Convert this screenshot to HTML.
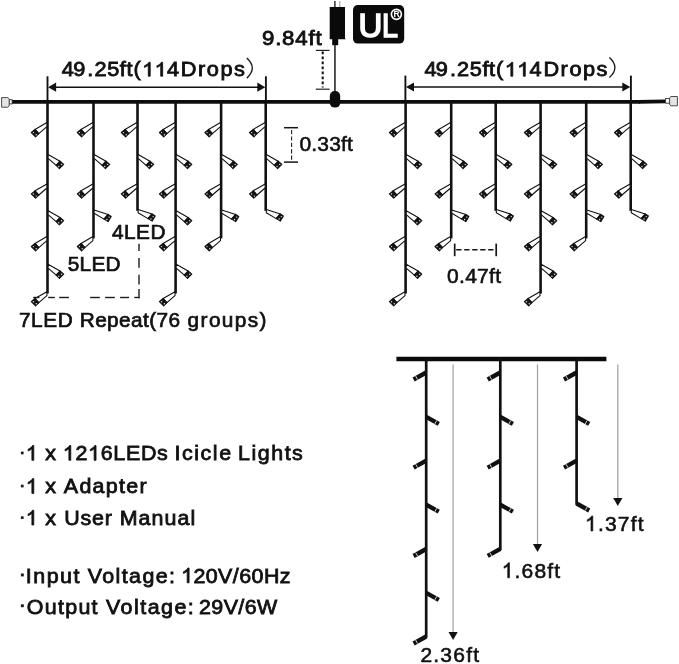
<!DOCTYPE html>
<html><head><meta charset="utf-8"><title>Icicle Lights</title>
<style>html,body{margin:0;padding:0;background:#fff;}svg{display:block;will-change:transform;}text{font-family:"Liberation Sans",sans-serif;}</style>
</head><body>
<svg width="679" height="664" viewBox="0 0 679 664">
<rect width="679" height="664" fill="#fff"/>
<line x1="11.9" y1="101.8" x2="640" y2="101.8" stroke="#0d0d0d" stroke-width="3.7"/>
<line x1="639" y1="101.8" x2="665.4" y2="101.35" stroke="#0d0d0d" stroke-width="3.7"/>
<rect x="9.3" y="99.7" width="2.8" height="4.2" fill="#fff" stroke="#333" stroke-width="0.9"/>
<rect x="665.6" y="98.6" width="3.8" height="4.6" fill="#fff" stroke="#333" stroke-width="0.9"/>
<path d="M1.6 97.6 H7.8 L9.2 98.9 V106 L7.8 107.2 H1.6 Z" fill="#e4e4e4" stroke="#4a4a4a" stroke-width="1"/>
<path d="M677.4 96.5 H671 L669.6 97.8 V104.6 L671 105.8 H677.4 Z" fill="#e4e4e4" stroke="#4a4a4a" stroke-width="1"/>
<rect x="329.8" y="91" width="10.4" height="16.6" rx="4.9" fill="#0d0d0d"/>
<line x1="334.95" y1="44" x2="334.95" y2="93" stroke="#111" stroke-width="1.45"/>
<path d="M329.7 7 H345 V38.5 L346.2 39.3 H329.7 Z" fill="#0a0a0a"/>
<rect x="332.2" y="39" width="6.0" height="6.2" fill="#0a0a0a"/>
<line x1="334.9" y1="1" x2="334.9" y2="7" stroke="#222" stroke-width="1.4"/>
<line x1="339.8" y1="1" x2="339.8" y2="7" stroke="#999" stroke-width="1"/>
<rect x="353" y="5.1" width="51.2" height="38.5" rx="4.8" fill="#0a0a0a"/>
<circle cx="396.4" cy="14.3" r="5.0" fill="none" stroke="#fff" stroke-width="1.7"/>
<text transform="translate(396.6,17.2) scale(1.0,1)" x="0" y="0" font-family="Liberation Sans, sans-serif" font-size="8.6" font-weight="bold" fill="#fff" text-anchor="middle">R</text>
<line x1="315.8" y1="50.4" x2="329.6" y2="50.4" stroke="#222" stroke-width="1.2"/>
<line x1="315.8" y1="89.2" x2="329.6" y2="89.2" stroke="#222" stroke-width="1.2"/>
<line x1="322.7" y1="51.4" x2="322.7" y2="87.4" stroke="#141414" stroke-width="2.1" stroke-dasharray="2.8 2.2"/>
<line x1="47.5" y1="101.8" x2="47.5" y2="293.5" stroke="#111" stroke-width="2.6"/>
<polygon points="46.90,122.60 35.00,129.40 38.80,133.60 46.90,126.60" fill="#fff" stroke="#111" stroke-width="1.1" stroke-linejoin="round"/>
<polygon points="35.00,129.40 31.30,132.50 35.60,136.80 38.80,133.60" fill="#161616" stroke="#111" stroke-width="1.1" stroke-linejoin="round"/>
<circle cx="33.40" cy="132.60" r="0.7" fill="#e6e6e6"/>
<circle cx="36.20" cy="134.70" r="0.7" fill="#e6e6e6"/>
<polygon points="48.10,154.40 60.00,161.20 56.20,165.40 48.10,158.40" fill="#fff" stroke="#111" stroke-width="1.1" stroke-linejoin="round"/>
<polygon points="60.00,161.20 63.70,164.30 59.40,168.60 56.20,165.40" fill="#161616" stroke="#111" stroke-width="1.1" stroke-linejoin="round"/>
<circle cx="61.60" cy="164.40" r="0.7" fill="#e6e6e6"/>
<circle cx="58.80" cy="166.50" r="0.7" fill="#e6e6e6"/>
<polygon points="46.90,184.00 35.00,190.80 38.80,195.00 46.90,188.00" fill="#fff" stroke="#111" stroke-width="1.1" stroke-linejoin="round"/>
<polygon points="35.00,190.80 31.30,193.90 35.60,198.20 38.80,195.00" fill="#161616" stroke="#111" stroke-width="1.1" stroke-linejoin="round"/>
<circle cx="33.40" cy="194.00" r="0.7" fill="#e6e6e6"/>
<circle cx="36.20" cy="196.10" r="0.7" fill="#e6e6e6"/>
<polygon points="48.10,210.70 60.00,217.50 56.20,221.70 48.10,214.70" fill="#fff" stroke="#111" stroke-width="1.1" stroke-linejoin="round"/>
<polygon points="60.00,217.50 63.70,220.60 59.40,224.90 56.20,221.70" fill="#161616" stroke="#111" stroke-width="1.1" stroke-linejoin="round"/>
<circle cx="61.60" cy="220.70" r="0.7" fill="#e6e6e6"/>
<circle cx="58.80" cy="222.80" r="0.7" fill="#e6e6e6"/>
<polygon points="46.90,236.60 35.00,243.40 38.80,247.60 46.90,240.60" fill="#fff" stroke="#111" stroke-width="1.1" stroke-linejoin="round"/>
<polygon points="35.00,243.40 31.30,246.50 35.60,250.80 38.80,247.60" fill="#161616" stroke="#111" stroke-width="1.1" stroke-linejoin="round"/>
<circle cx="33.40" cy="246.60" r="0.7" fill="#e6e6e6"/>
<circle cx="36.20" cy="248.70" r="0.7" fill="#e6e6e6"/>
<polygon points="48.10,264.20 60.00,271.00 56.20,275.20 48.10,268.20" fill="#fff" stroke="#111" stroke-width="1.1" stroke-linejoin="round"/>
<polygon points="60.00,271.00 63.70,274.10 59.40,278.40 56.20,275.20" fill="#161616" stroke="#111" stroke-width="1.1" stroke-linejoin="round"/>
<circle cx="61.60" cy="274.20" r="0.7" fill="#e6e6e6"/>
<circle cx="58.80" cy="276.30" r="0.7" fill="#e6e6e6"/>
<polygon points="46.90,291.70 35.00,298.50 38.80,302.70 46.90,295.70" fill="#fff" stroke="#111" stroke-width="1.1" stroke-linejoin="round"/>
<polygon points="35.00,298.50 31.30,301.60 35.60,305.90 38.80,302.70" fill="#161616" stroke="#111" stroke-width="1.1" stroke-linejoin="round"/>
<circle cx="33.40" cy="301.70" r="0.7" fill="#e6e6e6"/>
<circle cx="36.20" cy="303.80" r="0.7" fill="#e6e6e6"/>
<line x1="93.5" y1="101.8" x2="93.5" y2="238.4" stroke="#111" stroke-width="2.6"/>
<polygon points="92.90,122.60 81.00,129.40 84.80,133.60 92.90,126.60" fill="#fff" stroke="#111" stroke-width="1.1" stroke-linejoin="round"/>
<polygon points="81.00,129.40 77.30,132.50 81.60,136.80 84.80,133.60" fill="#161616" stroke="#111" stroke-width="1.1" stroke-linejoin="round"/>
<circle cx="79.40" cy="132.60" r="0.7" fill="#e6e6e6"/>
<circle cx="82.20" cy="134.70" r="0.7" fill="#e6e6e6"/>
<polygon points="94.10,154.40 106.00,161.20 102.20,165.40 94.10,158.40" fill="#fff" stroke="#111" stroke-width="1.1" stroke-linejoin="round"/>
<polygon points="106.00,161.20 109.70,164.30 105.40,168.60 102.20,165.40" fill="#161616" stroke="#111" stroke-width="1.1" stroke-linejoin="round"/>
<circle cx="107.60" cy="164.40" r="0.7" fill="#e6e6e6"/>
<circle cx="104.80" cy="166.50" r="0.7" fill="#e6e6e6"/>
<polygon points="92.90,184.00 81.00,190.80 84.80,195.00 92.90,188.00" fill="#fff" stroke="#111" stroke-width="1.1" stroke-linejoin="round"/>
<polygon points="81.00,190.80 77.30,193.90 81.60,198.20 84.80,195.00" fill="#161616" stroke="#111" stroke-width="1.1" stroke-linejoin="round"/>
<circle cx="79.40" cy="194.00" r="0.7" fill="#e6e6e6"/>
<circle cx="82.20" cy="196.10" r="0.7" fill="#e6e6e6"/>
<polygon points="94.10,209.90 108.10,214.40 104.00,219.10 94.10,213.20" fill="#fff" stroke="#111" stroke-width="1.1" stroke-linejoin="round"/>
<polygon points="108.10,214.40 111.20,216.50 108.10,221.60 104.00,219.10" fill="#161616" stroke="#111" stroke-width="1.1" stroke-linejoin="round"/>
<circle cx="109.10" cy="217.10" r="0.7" fill="#e6e6e6"/>
<circle cx="106.90" cy="219.50" r="0.7" fill="#e6e6e6"/>
<polygon points="92.90,236.60 81.00,243.40 84.80,247.60 92.90,240.60" fill="#fff" stroke="#111" stroke-width="1.1" stroke-linejoin="round"/>
<polygon points="81.00,243.40 77.30,246.50 81.60,250.80 84.80,247.60" fill="#161616" stroke="#111" stroke-width="1.1" stroke-linejoin="round"/>
<circle cx="79.40" cy="246.60" r="0.7" fill="#e6e6e6"/>
<circle cx="82.20" cy="248.70" r="0.7" fill="#e6e6e6"/>
<line x1="137.5" y1="101.8" x2="137.5" y2="210.8" stroke="#111" stroke-width="2.6"/>
<polygon points="136.90,122.60 125.00,129.40 128.80,133.60 136.90,126.60" fill="#fff" stroke="#111" stroke-width="1.1" stroke-linejoin="round"/>
<polygon points="125.00,129.40 121.30,132.50 125.60,136.80 128.80,133.60" fill="#161616" stroke="#111" stroke-width="1.1" stroke-linejoin="round"/>
<circle cx="123.40" cy="132.60" r="0.7" fill="#e6e6e6"/>
<circle cx="126.20" cy="134.70" r="0.7" fill="#e6e6e6"/>
<polygon points="138.10,154.40 150.00,161.20 146.20,165.40 138.10,158.40" fill="#fff" stroke="#111" stroke-width="1.1" stroke-linejoin="round"/>
<polygon points="150.00,161.20 153.70,164.30 149.40,168.60 146.20,165.40" fill="#161616" stroke="#111" stroke-width="1.1" stroke-linejoin="round"/>
<circle cx="151.60" cy="164.40" r="0.7" fill="#e6e6e6"/>
<circle cx="148.80" cy="166.50" r="0.7" fill="#e6e6e6"/>
<polygon points="136.90,184.00 125.00,190.80 128.80,195.00 136.90,188.00" fill="#fff" stroke="#111" stroke-width="1.1" stroke-linejoin="round"/>
<polygon points="125.00,190.80 121.30,193.90 125.60,198.20 128.80,195.00" fill="#161616" stroke="#111" stroke-width="1.1" stroke-linejoin="round"/>
<circle cx="123.40" cy="194.00" r="0.7" fill="#e6e6e6"/>
<circle cx="126.20" cy="196.10" r="0.7" fill="#e6e6e6"/>
<polygon points="138.10,209.40 152.10,213.90 148.00,218.60 138.10,212.70" fill="#fff" stroke="#111" stroke-width="1.1" stroke-linejoin="round"/>
<polygon points="152.10,213.90 155.20,216.00 152.10,221.10 148.00,218.60" fill="#161616" stroke="#111" stroke-width="1.1" stroke-linejoin="round"/>
<circle cx="153.10" cy="216.60" r="0.7" fill="#e6e6e6"/>
<circle cx="150.90" cy="219.00" r="0.7" fill="#e6e6e6"/>
<line x1="175.6" y1="101.8" x2="175.6" y2="293.5" stroke="#111" stroke-width="2.6"/>
<polygon points="175.00,122.60 163.10,129.40 166.90,133.60 175.00,126.60" fill="#fff" stroke="#111" stroke-width="1.1" stroke-linejoin="round"/>
<polygon points="163.10,129.40 159.40,132.50 163.70,136.80 166.90,133.60" fill="#161616" stroke="#111" stroke-width="1.1" stroke-linejoin="round"/>
<circle cx="161.50" cy="132.60" r="0.7" fill="#e6e6e6"/>
<circle cx="164.30" cy="134.70" r="0.7" fill="#e6e6e6"/>
<polygon points="176.20,154.40 188.10,161.20 184.30,165.40 176.20,158.40" fill="#fff" stroke="#111" stroke-width="1.1" stroke-linejoin="round"/>
<polygon points="188.10,161.20 191.80,164.30 187.50,168.60 184.30,165.40" fill="#161616" stroke="#111" stroke-width="1.1" stroke-linejoin="round"/>
<circle cx="189.70" cy="164.40" r="0.7" fill="#e6e6e6"/>
<circle cx="186.90" cy="166.50" r="0.7" fill="#e6e6e6"/>
<polygon points="175.00,184.00 163.10,190.80 166.90,195.00 175.00,188.00" fill="#fff" stroke="#111" stroke-width="1.1" stroke-linejoin="round"/>
<polygon points="163.10,190.80 159.40,193.90 163.70,198.20 166.90,195.00" fill="#161616" stroke="#111" stroke-width="1.1" stroke-linejoin="round"/>
<circle cx="161.50" cy="194.00" r="0.7" fill="#e6e6e6"/>
<circle cx="164.30" cy="196.10" r="0.7" fill="#e6e6e6"/>
<polygon points="176.20,210.70 188.10,217.50 184.30,221.70 176.20,214.70" fill="#fff" stroke="#111" stroke-width="1.1" stroke-linejoin="round"/>
<polygon points="188.10,217.50 191.80,220.60 187.50,224.90 184.30,221.70" fill="#161616" stroke="#111" stroke-width="1.1" stroke-linejoin="round"/>
<circle cx="189.70" cy="220.70" r="0.7" fill="#e6e6e6"/>
<circle cx="186.90" cy="222.80" r="0.7" fill="#e6e6e6"/>
<polygon points="175.00,236.60 163.10,243.40 166.90,247.60 175.00,240.60" fill="#fff" stroke="#111" stroke-width="1.1" stroke-linejoin="round"/>
<polygon points="163.10,243.40 159.40,246.50 163.70,250.80 166.90,247.60" fill="#161616" stroke="#111" stroke-width="1.1" stroke-linejoin="round"/>
<circle cx="161.50" cy="246.60" r="0.7" fill="#e6e6e6"/>
<circle cx="164.30" cy="248.70" r="0.7" fill="#e6e6e6"/>
<polygon points="176.20,264.20 188.10,271.00 184.30,275.20 176.20,268.20" fill="#fff" stroke="#111" stroke-width="1.1" stroke-linejoin="round"/>
<polygon points="188.10,271.00 191.80,274.10 187.50,278.40 184.30,275.20" fill="#161616" stroke="#111" stroke-width="1.1" stroke-linejoin="round"/>
<circle cx="189.70" cy="274.20" r="0.7" fill="#e6e6e6"/>
<circle cx="186.90" cy="276.30" r="0.7" fill="#e6e6e6"/>
<polygon points="175.00,291.70 163.10,298.50 166.90,302.70 175.00,295.70" fill="#fff" stroke="#111" stroke-width="1.1" stroke-linejoin="round"/>
<polygon points="163.10,298.50 159.40,301.60 163.70,305.90 166.90,302.70" fill="#161616" stroke="#111" stroke-width="1.1" stroke-linejoin="round"/>
<circle cx="161.50" cy="301.70" r="0.7" fill="#e6e6e6"/>
<circle cx="164.30" cy="303.80" r="0.7" fill="#e6e6e6"/>
<line x1="221.1" y1="101.8" x2="221.1" y2="238.4" stroke="#111" stroke-width="2.6"/>
<polygon points="220.50,122.60 208.60,129.40 212.40,133.60 220.50,126.60" fill="#fff" stroke="#111" stroke-width="1.1" stroke-linejoin="round"/>
<polygon points="208.60,129.40 204.90,132.50 209.20,136.80 212.40,133.60" fill="#161616" stroke="#111" stroke-width="1.1" stroke-linejoin="round"/>
<circle cx="207.00" cy="132.60" r="0.7" fill="#e6e6e6"/>
<circle cx="209.80" cy="134.70" r="0.7" fill="#e6e6e6"/>
<polygon points="221.70,154.40 233.60,161.20 229.80,165.40 221.70,158.40" fill="#fff" stroke="#111" stroke-width="1.1" stroke-linejoin="round"/>
<polygon points="233.60,161.20 237.30,164.30 233.00,168.60 229.80,165.40" fill="#161616" stroke="#111" stroke-width="1.1" stroke-linejoin="round"/>
<circle cx="235.20" cy="164.40" r="0.7" fill="#e6e6e6"/>
<circle cx="232.40" cy="166.50" r="0.7" fill="#e6e6e6"/>
<polygon points="220.50,184.00 208.60,190.80 212.40,195.00 220.50,188.00" fill="#fff" stroke="#111" stroke-width="1.1" stroke-linejoin="round"/>
<polygon points="208.60,190.80 204.90,193.90 209.20,198.20 212.40,195.00" fill="#161616" stroke="#111" stroke-width="1.1" stroke-linejoin="round"/>
<circle cx="207.00" cy="194.00" r="0.7" fill="#e6e6e6"/>
<circle cx="209.80" cy="196.10" r="0.7" fill="#e6e6e6"/>
<polygon points="221.70,209.90 235.70,214.40 231.60,219.10 221.70,213.20" fill="#fff" stroke="#111" stroke-width="1.1" stroke-linejoin="round"/>
<polygon points="235.70,214.40 238.80,216.50 235.70,221.60 231.60,219.10" fill="#161616" stroke="#111" stroke-width="1.1" stroke-linejoin="round"/>
<circle cx="236.70" cy="217.10" r="0.7" fill="#e6e6e6"/>
<circle cx="234.50" cy="219.50" r="0.7" fill="#e6e6e6"/>
<polygon points="220.50,236.60 208.60,243.40 212.40,247.60 220.50,240.60" fill="#fff" stroke="#111" stroke-width="1.1" stroke-linejoin="round"/>
<polygon points="208.60,243.40 204.90,246.50 209.20,250.80 212.40,247.60" fill="#161616" stroke="#111" stroke-width="1.1" stroke-linejoin="round"/>
<circle cx="207.00" cy="246.60" r="0.7" fill="#e6e6e6"/>
<circle cx="209.80" cy="248.70" r="0.7" fill="#e6e6e6"/>
<line x1="265.7" y1="101.8" x2="265.7" y2="210.8" stroke="#111" stroke-width="2.6"/>
<polygon points="265.10,122.60 253.20,129.40 257.00,133.60 265.10,126.60" fill="#fff" stroke="#111" stroke-width="1.1" stroke-linejoin="round"/>
<polygon points="253.20,129.40 249.50,132.50 253.80,136.80 257.00,133.60" fill="#161616" stroke="#111" stroke-width="1.1" stroke-linejoin="round"/>
<circle cx="251.60" cy="132.60" r="0.7" fill="#e6e6e6"/>
<circle cx="254.40" cy="134.70" r="0.7" fill="#e6e6e6"/>
<polygon points="266.30,154.40 278.20,161.20 274.40,165.40 266.30,158.40" fill="#fff" stroke="#111" stroke-width="1.1" stroke-linejoin="round"/>
<polygon points="278.20,161.20 281.90,164.30 277.60,168.60 274.40,165.40" fill="#161616" stroke="#111" stroke-width="1.1" stroke-linejoin="round"/>
<circle cx="279.80" cy="164.40" r="0.7" fill="#e6e6e6"/>
<circle cx="277.00" cy="166.50" r="0.7" fill="#e6e6e6"/>
<polygon points="265.10,184.00 253.20,190.80 257.00,195.00 265.10,188.00" fill="#fff" stroke="#111" stroke-width="1.1" stroke-linejoin="round"/>
<polygon points="253.20,190.80 249.50,193.90 253.80,198.20 257.00,195.00" fill="#161616" stroke="#111" stroke-width="1.1" stroke-linejoin="round"/>
<circle cx="251.60" cy="194.00" r="0.7" fill="#e6e6e6"/>
<circle cx="254.40" cy="196.10" r="0.7" fill="#e6e6e6"/>
<polygon points="266.30,209.40 280.30,213.90 276.20,218.60 266.30,212.70" fill="#fff" stroke="#111" stroke-width="1.1" stroke-linejoin="round"/>
<polygon points="280.30,213.90 283.40,216.00 280.30,221.10 276.20,218.60" fill="#161616" stroke="#111" stroke-width="1.1" stroke-linejoin="round"/>
<circle cx="281.30" cy="216.60" r="0.7" fill="#e6e6e6"/>
<circle cx="279.10" cy="219.00" r="0.7" fill="#e6e6e6"/>
<line x1="405.6" y1="101.8" x2="405.6" y2="293.5" stroke="#111" stroke-width="2.6"/>
<polygon points="405.00,122.60 393.10,129.40 396.90,133.60 405.00,126.60" fill="#fff" stroke="#111" stroke-width="1.1" stroke-linejoin="round"/>
<polygon points="393.10,129.40 389.40,132.50 393.70,136.80 396.90,133.60" fill="#161616" stroke="#111" stroke-width="1.1" stroke-linejoin="round"/>
<circle cx="391.50" cy="132.60" r="0.7" fill="#e6e6e6"/>
<circle cx="394.30" cy="134.70" r="0.7" fill="#e6e6e6"/>
<polygon points="406.20,154.40 418.10,161.20 414.30,165.40 406.20,158.40" fill="#fff" stroke="#111" stroke-width="1.1" stroke-linejoin="round"/>
<polygon points="418.10,161.20 421.80,164.30 417.50,168.60 414.30,165.40" fill="#161616" stroke="#111" stroke-width="1.1" stroke-linejoin="round"/>
<circle cx="419.70" cy="164.40" r="0.7" fill="#e6e6e6"/>
<circle cx="416.90" cy="166.50" r="0.7" fill="#e6e6e6"/>
<polygon points="405.00,184.00 393.10,190.80 396.90,195.00 405.00,188.00" fill="#fff" stroke="#111" stroke-width="1.1" stroke-linejoin="round"/>
<polygon points="393.10,190.80 389.40,193.90 393.70,198.20 396.90,195.00" fill="#161616" stroke="#111" stroke-width="1.1" stroke-linejoin="round"/>
<circle cx="391.50" cy="194.00" r="0.7" fill="#e6e6e6"/>
<circle cx="394.30" cy="196.10" r="0.7" fill="#e6e6e6"/>
<polygon points="406.20,210.70 418.10,217.50 414.30,221.70 406.20,214.70" fill="#fff" stroke="#111" stroke-width="1.1" stroke-linejoin="round"/>
<polygon points="418.10,217.50 421.80,220.60 417.50,224.90 414.30,221.70" fill="#161616" stroke="#111" stroke-width="1.1" stroke-linejoin="round"/>
<circle cx="419.70" cy="220.70" r="0.7" fill="#e6e6e6"/>
<circle cx="416.90" cy="222.80" r="0.7" fill="#e6e6e6"/>
<polygon points="405.00,236.60 393.10,243.40 396.90,247.60 405.00,240.60" fill="#fff" stroke="#111" stroke-width="1.1" stroke-linejoin="round"/>
<polygon points="393.10,243.40 389.40,246.50 393.70,250.80 396.90,247.60" fill="#161616" stroke="#111" stroke-width="1.1" stroke-linejoin="round"/>
<circle cx="391.50" cy="246.60" r="0.7" fill="#e6e6e6"/>
<circle cx="394.30" cy="248.70" r="0.7" fill="#e6e6e6"/>
<polygon points="406.20,264.20 418.10,271.00 414.30,275.20 406.20,268.20" fill="#fff" stroke="#111" stroke-width="1.1" stroke-linejoin="round"/>
<polygon points="418.10,271.00 421.80,274.10 417.50,278.40 414.30,275.20" fill="#161616" stroke="#111" stroke-width="1.1" stroke-linejoin="round"/>
<circle cx="419.70" cy="274.20" r="0.7" fill="#e6e6e6"/>
<circle cx="416.90" cy="276.30" r="0.7" fill="#e6e6e6"/>
<polygon points="405.00,291.70 393.10,298.50 396.90,302.70 405.00,295.70" fill="#fff" stroke="#111" stroke-width="1.1" stroke-linejoin="round"/>
<polygon points="393.10,298.50 389.40,301.60 393.70,305.90 396.90,302.70" fill="#161616" stroke="#111" stroke-width="1.1" stroke-linejoin="round"/>
<circle cx="391.50" cy="301.70" r="0.7" fill="#e6e6e6"/>
<circle cx="394.30" cy="303.80" r="0.7" fill="#e6e6e6"/>
<line x1="451.2" y1="101.8" x2="451.2" y2="238.4" stroke="#111" stroke-width="2.6"/>
<polygon points="450.60,122.60 438.70,129.40 442.50,133.60 450.60,126.60" fill="#fff" stroke="#111" stroke-width="1.1" stroke-linejoin="round"/>
<polygon points="438.70,129.40 435.00,132.50 439.30,136.80 442.50,133.60" fill="#161616" stroke="#111" stroke-width="1.1" stroke-linejoin="round"/>
<circle cx="437.10" cy="132.60" r="0.7" fill="#e6e6e6"/>
<circle cx="439.90" cy="134.70" r="0.7" fill="#e6e6e6"/>
<polygon points="451.80,154.40 463.70,161.20 459.90,165.40 451.80,158.40" fill="#fff" stroke="#111" stroke-width="1.1" stroke-linejoin="round"/>
<polygon points="463.70,161.20 467.40,164.30 463.10,168.60 459.90,165.40" fill="#161616" stroke="#111" stroke-width="1.1" stroke-linejoin="round"/>
<circle cx="465.30" cy="164.40" r="0.7" fill="#e6e6e6"/>
<circle cx="462.50" cy="166.50" r="0.7" fill="#e6e6e6"/>
<polygon points="450.60,184.00 438.70,190.80 442.50,195.00 450.60,188.00" fill="#fff" stroke="#111" stroke-width="1.1" stroke-linejoin="round"/>
<polygon points="438.70,190.80 435.00,193.90 439.30,198.20 442.50,195.00" fill="#161616" stroke="#111" stroke-width="1.1" stroke-linejoin="round"/>
<circle cx="437.10" cy="194.00" r="0.7" fill="#e6e6e6"/>
<circle cx="439.90" cy="196.10" r="0.7" fill="#e6e6e6"/>
<polygon points="451.80,209.90 465.80,214.40 461.70,219.10 451.80,213.20" fill="#fff" stroke="#111" stroke-width="1.1" stroke-linejoin="round"/>
<polygon points="465.80,214.40 468.90,216.50 465.80,221.60 461.70,219.10" fill="#161616" stroke="#111" stroke-width="1.1" stroke-linejoin="round"/>
<circle cx="466.80" cy="217.10" r="0.7" fill="#e6e6e6"/>
<circle cx="464.60" cy="219.50" r="0.7" fill="#e6e6e6"/>
<polygon points="450.60,236.60 438.70,243.40 442.50,247.60 450.60,240.60" fill="#fff" stroke="#111" stroke-width="1.1" stroke-linejoin="round"/>
<polygon points="438.70,243.40 435.00,246.50 439.30,250.80 442.50,247.60" fill="#161616" stroke="#111" stroke-width="1.1" stroke-linejoin="round"/>
<circle cx="437.10" cy="246.60" r="0.7" fill="#e6e6e6"/>
<circle cx="439.90" cy="248.70" r="0.7" fill="#e6e6e6"/>
<line x1="495.7" y1="101.8" x2="495.7" y2="210.8" stroke="#111" stroke-width="2.6"/>
<polygon points="495.10,122.60 483.20,129.40 487.00,133.60 495.10,126.60" fill="#fff" stroke="#111" stroke-width="1.1" stroke-linejoin="round"/>
<polygon points="483.20,129.40 479.50,132.50 483.80,136.80 487.00,133.60" fill="#161616" stroke="#111" stroke-width="1.1" stroke-linejoin="round"/>
<circle cx="481.60" cy="132.60" r="0.7" fill="#e6e6e6"/>
<circle cx="484.40" cy="134.70" r="0.7" fill="#e6e6e6"/>
<polygon points="496.30,154.40 508.20,161.20 504.40,165.40 496.30,158.40" fill="#fff" stroke="#111" stroke-width="1.1" stroke-linejoin="round"/>
<polygon points="508.20,161.20 511.90,164.30 507.60,168.60 504.40,165.40" fill="#161616" stroke="#111" stroke-width="1.1" stroke-linejoin="round"/>
<circle cx="509.80" cy="164.40" r="0.7" fill="#e6e6e6"/>
<circle cx="507.00" cy="166.50" r="0.7" fill="#e6e6e6"/>
<polygon points="495.10,184.00 483.20,190.80 487.00,195.00 495.10,188.00" fill="#fff" stroke="#111" stroke-width="1.1" stroke-linejoin="round"/>
<polygon points="483.20,190.80 479.50,193.90 483.80,198.20 487.00,195.00" fill="#161616" stroke="#111" stroke-width="1.1" stroke-linejoin="round"/>
<circle cx="481.60" cy="194.00" r="0.7" fill="#e6e6e6"/>
<circle cx="484.40" cy="196.10" r="0.7" fill="#e6e6e6"/>
<polygon points="496.30,209.40 510.30,213.90 506.20,218.60 496.30,212.70" fill="#fff" stroke="#111" stroke-width="1.1" stroke-linejoin="round"/>
<polygon points="510.30,213.90 513.40,216.00 510.30,221.10 506.20,218.60" fill="#161616" stroke="#111" stroke-width="1.1" stroke-linejoin="round"/>
<circle cx="511.30" cy="216.60" r="0.7" fill="#e6e6e6"/>
<circle cx="509.10" cy="219.00" r="0.7" fill="#e6e6e6"/>
<line x1="540.6" y1="101.8" x2="540.6" y2="293.5" stroke="#111" stroke-width="2.6"/>
<polygon points="540.00,122.60 528.10,129.40 531.90,133.60 540.00,126.60" fill="#fff" stroke="#111" stroke-width="1.1" stroke-linejoin="round"/>
<polygon points="528.10,129.40 524.40,132.50 528.70,136.80 531.90,133.60" fill="#161616" stroke="#111" stroke-width="1.1" stroke-linejoin="round"/>
<circle cx="526.50" cy="132.60" r="0.7" fill="#e6e6e6"/>
<circle cx="529.30" cy="134.70" r="0.7" fill="#e6e6e6"/>
<polygon points="541.20,154.40 553.10,161.20 549.30,165.40 541.20,158.40" fill="#fff" stroke="#111" stroke-width="1.1" stroke-linejoin="round"/>
<polygon points="553.10,161.20 556.80,164.30 552.50,168.60 549.30,165.40" fill="#161616" stroke="#111" stroke-width="1.1" stroke-linejoin="round"/>
<circle cx="554.70" cy="164.40" r="0.7" fill="#e6e6e6"/>
<circle cx="551.90" cy="166.50" r="0.7" fill="#e6e6e6"/>
<polygon points="540.00,184.00 528.10,190.80 531.90,195.00 540.00,188.00" fill="#fff" stroke="#111" stroke-width="1.1" stroke-linejoin="round"/>
<polygon points="528.10,190.80 524.40,193.90 528.70,198.20 531.90,195.00" fill="#161616" stroke="#111" stroke-width="1.1" stroke-linejoin="round"/>
<circle cx="526.50" cy="194.00" r="0.7" fill="#e6e6e6"/>
<circle cx="529.30" cy="196.10" r="0.7" fill="#e6e6e6"/>
<polygon points="541.20,210.70 553.10,217.50 549.30,221.70 541.20,214.70" fill="#fff" stroke="#111" stroke-width="1.1" stroke-linejoin="round"/>
<polygon points="553.10,217.50 556.80,220.60 552.50,224.90 549.30,221.70" fill="#161616" stroke="#111" stroke-width="1.1" stroke-linejoin="round"/>
<circle cx="554.70" cy="220.70" r="0.7" fill="#e6e6e6"/>
<circle cx="551.90" cy="222.80" r="0.7" fill="#e6e6e6"/>
<polygon points="540.00,236.60 528.10,243.40 531.90,247.60 540.00,240.60" fill="#fff" stroke="#111" stroke-width="1.1" stroke-linejoin="round"/>
<polygon points="528.10,243.40 524.40,246.50 528.70,250.80 531.90,247.60" fill="#161616" stroke="#111" stroke-width="1.1" stroke-linejoin="round"/>
<circle cx="526.50" cy="246.60" r="0.7" fill="#e6e6e6"/>
<circle cx="529.30" cy="248.70" r="0.7" fill="#e6e6e6"/>
<polygon points="541.20,264.20 553.10,271.00 549.30,275.20 541.20,268.20" fill="#fff" stroke="#111" stroke-width="1.1" stroke-linejoin="round"/>
<polygon points="553.10,271.00 556.80,274.10 552.50,278.40 549.30,275.20" fill="#161616" stroke="#111" stroke-width="1.1" stroke-linejoin="round"/>
<circle cx="554.70" cy="274.20" r="0.7" fill="#e6e6e6"/>
<circle cx="551.90" cy="276.30" r="0.7" fill="#e6e6e6"/>
<polygon points="540.00,291.70 528.10,298.50 531.90,302.70 540.00,295.70" fill="#fff" stroke="#111" stroke-width="1.1" stroke-linejoin="round"/>
<polygon points="528.10,298.50 524.40,301.60 528.70,305.90 531.90,302.70" fill="#161616" stroke="#111" stroke-width="1.1" stroke-linejoin="round"/>
<circle cx="526.50" cy="301.70" r="0.7" fill="#e6e6e6"/>
<circle cx="529.30" cy="303.80" r="0.7" fill="#e6e6e6"/>
<line x1="586.2" y1="101.8" x2="586.2" y2="238.4" stroke="#111" stroke-width="2.6"/>
<polygon points="585.60,122.60 573.70,129.40 577.50,133.60 585.60,126.60" fill="#fff" stroke="#111" stroke-width="1.1" stroke-linejoin="round"/>
<polygon points="573.70,129.40 570.00,132.50 574.30,136.80 577.50,133.60" fill="#161616" stroke="#111" stroke-width="1.1" stroke-linejoin="round"/>
<circle cx="572.10" cy="132.60" r="0.7" fill="#e6e6e6"/>
<circle cx="574.90" cy="134.70" r="0.7" fill="#e6e6e6"/>
<polygon points="586.80,154.40 598.70,161.20 594.90,165.40 586.80,158.40" fill="#fff" stroke="#111" stroke-width="1.1" stroke-linejoin="round"/>
<polygon points="598.70,161.20 602.40,164.30 598.10,168.60 594.90,165.40" fill="#161616" stroke="#111" stroke-width="1.1" stroke-linejoin="round"/>
<circle cx="600.30" cy="164.40" r="0.7" fill="#e6e6e6"/>
<circle cx="597.50" cy="166.50" r="0.7" fill="#e6e6e6"/>
<polygon points="585.60,184.00 573.70,190.80 577.50,195.00 585.60,188.00" fill="#fff" stroke="#111" stroke-width="1.1" stroke-linejoin="round"/>
<polygon points="573.70,190.80 570.00,193.90 574.30,198.20 577.50,195.00" fill="#161616" stroke="#111" stroke-width="1.1" stroke-linejoin="round"/>
<circle cx="572.10" cy="194.00" r="0.7" fill="#e6e6e6"/>
<circle cx="574.90" cy="196.10" r="0.7" fill="#e6e6e6"/>
<polygon points="586.80,209.90 600.80,214.40 596.70,219.10 586.80,213.20" fill="#fff" stroke="#111" stroke-width="1.1" stroke-linejoin="round"/>
<polygon points="600.80,214.40 603.90,216.50 600.80,221.60 596.70,219.10" fill="#161616" stroke="#111" stroke-width="1.1" stroke-linejoin="round"/>
<circle cx="601.80" cy="217.10" r="0.7" fill="#e6e6e6"/>
<circle cx="599.60" cy="219.50" r="0.7" fill="#e6e6e6"/>
<polygon points="585.60,236.60 573.70,243.40 577.50,247.60 585.60,240.60" fill="#fff" stroke="#111" stroke-width="1.1" stroke-linejoin="round"/>
<polygon points="573.70,243.40 570.00,246.50 574.30,250.80 577.50,247.60" fill="#161616" stroke="#111" stroke-width="1.1" stroke-linejoin="round"/>
<circle cx="572.10" cy="246.60" r="0.7" fill="#e6e6e6"/>
<circle cx="574.90" cy="248.70" r="0.7" fill="#e6e6e6"/>
<line x1="630.7" y1="101.8" x2="630.7" y2="210.8" stroke="#111" stroke-width="2.6"/>
<polygon points="630.10,122.60 618.20,129.40 622.00,133.60 630.10,126.60" fill="#fff" stroke="#111" stroke-width="1.1" stroke-linejoin="round"/>
<polygon points="618.20,129.40 614.50,132.50 618.80,136.80 622.00,133.60" fill="#161616" stroke="#111" stroke-width="1.1" stroke-linejoin="round"/>
<circle cx="616.60" cy="132.60" r="0.7" fill="#e6e6e6"/>
<circle cx="619.40" cy="134.70" r="0.7" fill="#e6e6e6"/>
<polygon points="631.30,154.40 643.20,161.20 639.40,165.40 631.30,158.40" fill="#fff" stroke="#111" stroke-width="1.1" stroke-linejoin="round"/>
<polygon points="643.20,161.20 646.90,164.30 642.60,168.60 639.40,165.40" fill="#161616" stroke="#111" stroke-width="1.1" stroke-linejoin="round"/>
<circle cx="644.80" cy="164.40" r="0.7" fill="#e6e6e6"/>
<circle cx="642.00" cy="166.50" r="0.7" fill="#e6e6e6"/>
<polygon points="630.10,184.00 618.20,190.80 622.00,195.00 630.10,188.00" fill="#fff" stroke="#111" stroke-width="1.1" stroke-linejoin="round"/>
<polygon points="618.20,190.80 614.50,193.90 618.80,198.20 622.00,195.00" fill="#161616" stroke="#111" stroke-width="1.1" stroke-linejoin="round"/>
<circle cx="616.60" cy="194.00" r="0.7" fill="#e6e6e6"/>
<circle cx="619.40" cy="196.10" r="0.7" fill="#e6e6e6"/>
<polygon points="631.30,209.40 645.30,213.90 641.20,218.60 631.30,212.70" fill="#fff" stroke="#111" stroke-width="1.1" stroke-linejoin="round"/>
<polygon points="645.30,213.90 648.40,216.00 645.30,221.10 641.20,218.60" fill="#161616" stroke="#111" stroke-width="1.1" stroke-linejoin="round"/>
<circle cx="646.30" cy="216.60" r="0.7" fill="#e6e6e6"/>
<circle cx="644.10" cy="219.00" r="0.7" fill="#e6e6e6"/>
<line x1="47.5" y1="76.3" x2="47.5" y2="101.8" stroke="#111" stroke-width="1.9"/>
<line x1="265.9" y1="76.3" x2="265.9" y2="101.8" stroke="#111" stroke-width="1.9"/>
<line x1="51.5" y1="87.2" x2="261.9" y2="87.2" stroke="#111" stroke-width="1.5"/>
<polygon points="48.1,87.2 56.1,82.60000000000001 56.1,91.8" fill="#111"/>
<polygon points="265.29999999999995,87.2 257.29999999999995,82.60000000000001 257.29999999999995,91.8" fill="#111"/>
<line x1="405.4" y1="75.6" x2="405.4" y2="101.8" stroke="#111" stroke-width="1.9"/>
<line x1="630.9" y1="75.6" x2="630.9" y2="101.8" stroke="#111" stroke-width="1.9"/>
<line x1="409.4" y1="87.0" x2="626.9" y2="87.0" stroke="#111" stroke-width="1.5"/>
<polygon points="406.0,87.0 414.0,82.4 414.0,91.6" fill="#111"/>
<polygon points="630.3,87.0 622.3,82.4 622.3,91.6" fill="#111"/>
<line x1="284" y1="127.7" x2="298" y2="127.7" stroke="#151515" stroke-width="1.5"/>
<line x1="284" y1="162.1" x2="298" y2="162.1" stroke="#151515" stroke-width="1.5"/>
<line x1="291.6" y1="130" x2="291.6" y2="161" stroke="#222" stroke-width="1.1" stroke-dasharray="4.2 2.2"/>
<line x1="454.7" y1="243.6" x2="454.7" y2="256.2" stroke="#151515" stroke-width="1.7"/>
<line x1="496.2" y1="243.6" x2="496.2" y2="256.2" stroke="#151515" stroke-width="1.7"/>
<line x1="456.2" y1="249.7" x2="496" y2="249.7" stroke="#151515" stroke-width="1.5" stroke-dasharray="5.3 2.7"/>
<line x1="33.2" y1="297.5" x2="39.4" y2="297.5" stroke="#1c1c1c" stroke-width="1.4"/>
<line x1="48.2" y1="297.5" x2="54.8" y2="297.5" stroke="#1c1c1c" stroke-width="1.4"/>
<line x1="59.2" y1="297.5" x2="68.9" y2="297.5" stroke="#1c1c1c" stroke-width="1.4"/>
<line x1="90.1" y1="297.5" x2="99.8" y2="297.5" stroke="#1c1c1c" stroke-width="1.4"/>
<line x1="105.1" y1="297.5" x2="114.8" y2="297.5" stroke="#1c1c1c" stroke-width="1.4"/>
<line x1="120.1" y1="297.5" x2="129.0" y2="297.5" stroke="#1c1c1c" stroke-width="1.4"/>
<line x1="134.3" y1="297.5" x2="139.7" y2="297.5" stroke="#1c1c1c" stroke-width="1.4"/>
<line x1="139" y1="243.8" x2="139" y2="250.9" stroke="#1c1c1c" stroke-width="1.4"/>
<line x1="139" y1="258.0" x2="139" y2="267.7" stroke="#1c1c1c" stroke-width="1.4"/>
<line x1="139" y1="274.8" x2="139" y2="284.5" stroke="#1c1c1c" stroke-width="1.4"/>
<line x1="139" y1="288.9" x2="139" y2="298.2" stroke="#1c1c1c" stroke-width="1.4"/>
<path d="M246.8 58 Q257.8 68 246.8 78.2" fill="none" stroke="#111" stroke-width="1.3"/>
<path d="M609.4 57.4 Q620.4 67.4 609.4 77.6" fill="none" stroke="#111" stroke-width="1.3"/>
<line x1="396.4" y1="359" x2="606.4" y2="359" stroke="#0a0a0a" stroke-width="4.4"/>
<line x1="426.2" y1="359" x2="426.2" y2="637.8" stroke="#111" stroke-width="2.7"/>
<line x1="426.2" y1="372.5" x2="413.60" y2="379.50" stroke="#111" stroke-width="4.3"/>
<line x1="415.65" y1="376.07" x2="417.60" y2="379.57" stroke="#e8e8e8" stroke-width="0.9"/>
<line x1="426.2" y1="416.9" x2="438.80" y2="423.90" stroke="#111" stroke-width="4.3"/>
<line x1="434.80" y1="423.97" x2="436.75" y2="420.47" stroke="#e8e8e8" stroke-width="0.9"/>
<line x1="426.2" y1="460.6" x2="413.60" y2="467.60" stroke="#111" stroke-width="4.3"/>
<line x1="415.65" y1="464.17" x2="417.60" y2="467.67" stroke="#e8e8e8" stroke-width="0.9"/>
<line x1="426.2" y1="504.7" x2="438.80" y2="511.70" stroke="#111" stroke-width="4.3"/>
<line x1="434.80" y1="511.77" x2="436.75" y2="508.27" stroke="#e8e8e8" stroke-width="0.9"/>
<line x1="426.2" y1="549.0" x2="413.60" y2="556.00" stroke="#111" stroke-width="4.3"/>
<line x1="415.65" y1="552.57" x2="417.60" y2="556.07" stroke="#e8e8e8" stroke-width="0.9"/>
<line x1="426.2" y1="592.8" x2="438.80" y2="599.80" stroke="#111" stroke-width="4.3"/>
<line x1="434.80" y1="599.87" x2="436.75" y2="596.37" stroke="#e8e8e8" stroke-width="0.9"/>
<line x1="426.2" y1="636.5" x2="413.60" y2="643.50" stroke="#111" stroke-width="4.3"/>
<line x1="415.65" y1="640.07" x2="417.60" y2="643.57" stroke="#e8e8e8" stroke-width="0.9"/>
<line x1="500.3" y1="359" x2="500.3" y2="550.1999999999999" stroke="#111" stroke-width="2.7"/>
<line x1="500.3" y1="372.5" x2="487.70" y2="379.50" stroke="#111" stroke-width="4.3"/>
<line x1="489.75" y1="376.07" x2="491.70" y2="379.57" stroke="#e8e8e8" stroke-width="0.9"/>
<line x1="500.3" y1="416.9" x2="512.90" y2="423.90" stroke="#111" stroke-width="4.3"/>
<line x1="508.90" y1="423.97" x2="510.85" y2="420.47" stroke="#e8e8e8" stroke-width="0.9"/>
<line x1="500.3" y1="460.6" x2="487.70" y2="467.60" stroke="#111" stroke-width="4.3"/>
<line x1="489.75" y1="464.17" x2="491.70" y2="467.67" stroke="#e8e8e8" stroke-width="0.9"/>
<line x1="500.3" y1="504.7" x2="512.90" y2="511.70" stroke="#111" stroke-width="4.3"/>
<line x1="508.90" y1="511.77" x2="510.85" y2="508.27" stroke="#e8e8e8" stroke-width="0.9"/>
<line x1="500.3" y1="548.9" x2="487.70" y2="555.90" stroke="#111" stroke-width="4.3"/>
<line x1="489.75" y1="552.47" x2="491.70" y2="555.97" stroke="#e8e8e8" stroke-width="0.9"/>
<line x1="576.6" y1="359" x2="576.6" y2="504.8" stroke="#111" stroke-width="2.7"/>
<line x1="576.6" y1="372.5" x2="564.00" y2="379.50" stroke="#111" stroke-width="4.3"/>
<line x1="566.05" y1="376.07" x2="568.00" y2="379.57" stroke="#e8e8e8" stroke-width="0.9"/>
<line x1="576.6" y1="416.9" x2="589.20" y2="423.90" stroke="#111" stroke-width="4.3"/>
<line x1="585.20" y1="423.97" x2="587.15" y2="420.47" stroke="#e8e8e8" stroke-width="0.9"/>
<line x1="576.6" y1="460.6" x2="564.00" y2="467.60" stroke="#111" stroke-width="4.3"/>
<line x1="566.05" y1="464.17" x2="568.00" y2="467.67" stroke="#e8e8e8" stroke-width="0.9"/>
<line x1="576.6" y1="503.5" x2="589.20" y2="510.50" stroke="#111" stroke-width="4.3"/>
<line x1="585.20" y1="510.57" x2="587.15" y2="507.07" stroke="#e8e8e8" stroke-width="0.9"/>
<line x1="453.1" y1="364.5" x2="453.1" y2="634.0" stroke="#a2a2a2" stroke-width="1.25"/>
<polygon points="448.5,632.0 457.70000000000005,632.0 453.1,640.0" fill="#111"/>
<line x1="537.5" y1="364.5" x2="537.5" y2="546.0" stroke="#a2a2a2" stroke-width="1.25"/>
<polygon points="532.9,544.0 542.1,544.0 537.5,552.0" fill="#111"/>
<line x1="617.8" y1="364.5" x2="617.8" y2="500.0" stroke="#a2a2a2" stroke-width="1.25"/>
<polygon points="613.1999999999999,498.0 622.4,498.0 617.8,506.0" fill="#111"/>
<rect x="20.9" y="451.60" width="2.7" height="2.7" fill="#1a1a1a"/>
<rect x="20.9" y="484.70" width="2.7" height="2.7" fill="#1a1a1a"/>
<rect x="20.9" y="516.30" width="2.7" height="2.7" fill="#1a1a1a"/>
<rect x="20.9" y="573.50" width="2.9" height="2.9" fill="#1a1a1a"/>
<rect x="20.9" y="604.30" width="2.9" height="2.9" fill="#1a1a1a"/>
<text transform="translate(25.80,460.3) scale(1.04,1)" font-family="Liberation Sans, sans-serif" font-size="20.6" font-weight="normal" fill="#111" stroke="#111" stroke-width="0.8" textLength="9.23" lengthAdjust="spacing"><tspan visibility="hidden">1</tspan></text>
<path transform="translate(25.80,460.3) scale(0.01046,-0.01006)" d="M763 0H583V1147Q518 1085 412 1023T223 930V1104Q373 1174 485 1275T644 1470H763Z" fill="#111" stroke="#111" stroke-width="79.5" stroke-linejoin="round"/>
<text transform="translate(45.20,460.3) scale(1.04,1)" font-family="Liberation Sans, sans-serif" font-size="20.6" font-weight="normal" fill="#111" stroke="#111" stroke-width="0.8" textLength="12.21" lengthAdjust="spacing">x</text>
<text transform="translate(62.80,460.3) scale(1.04,1)" font-family="Liberation Sans, sans-serif" font-size="20.6" font-weight="normal" fill="#111" stroke="#111" stroke-width="0.8" textLength="100.96" lengthAdjust="spacing"><tspan visibility="hidden">1</tspan>2<tspan visibility="hidden">1</tspan>6LEDs</text>
<path transform="translate(62.80,460.3) scale(0.01046,-0.01006)" d="M763 0H583V1147Q518 1085 412 1023T223 930V1104Q373 1174 485 1275T644 1470H763Z" fill="#111" stroke="#111" stroke-width="79.5" stroke-linejoin="round"/><path transform="translate(88.05,460.3) scale(0.01046,-0.01006)" d="M763 0H583V1147Q518 1085 412 1023T223 930V1104Q373 1174 485 1275T644 1470H763Z" fill="#111" stroke="#111" stroke-width="79.5" stroke-linejoin="round"/>
<text transform="translate(174.50,460.3) scale(1.04,1)" font-family="Liberation Sans, sans-serif" font-size="20.6" font-weight="normal" fill="#111" stroke="#111" stroke-width="0.8" textLength="54.42" lengthAdjust="spacing">Icicle</text>
<text transform="translate(238.10,460.3) scale(1.04,1)" font-family="Liberation Sans, sans-serif" font-size="20.6" font-weight="normal" fill="#111" stroke="#111" stroke-width="0.8" textLength="62.21" lengthAdjust="spacing">Lights</text>
<text transform="translate(25.80,493.4) scale(1.04,1)" font-family="Liberation Sans, sans-serif" font-size="20.6" font-weight="normal" fill="#111" stroke="#111" stroke-width="0.8" textLength="9.23" lengthAdjust="spacing"><tspan visibility="hidden">1</tspan></text>
<path transform="translate(25.80,493.4) scale(0.01046,-0.01006)" d="M763 0H583V1147Q518 1085 412 1023T223 930V1104Q373 1174 485 1275T644 1470H763Z" fill="#111" stroke="#111" stroke-width="79.5" stroke-linejoin="round"/>
<text transform="translate(45.20,493.4) scale(1.04,1)" font-family="Liberation Sans, sans-serif" font-size="20.6" font-weight="normal" fill="#111" stroke="#111" stroke-width="0.8" textLength="12.21" lengthAdjust="spacing">x</text>
<text transform="translate(63.80,493.4) scale(1.04,1)" font-family="Liberation Sans, sans-serif" font-size="20.6" font-weight="normal" fill="#111" stroke="#111" stroke-width="0.8" textLength="79.62" lengthAdjust="spacing">Adapter</text>
<text transform="translate(25.80,525.0) scale(1.04,1)" font-family="Liberation Sans, sans-serif" font-size="20.6" font-weight="normal" fill="#111" stroke="#111" stroke-width="0.8" textLength="9.23" lengthAdjust="spacing"><tspan visibility="hidden">1</tspan></text>
<path transform="translate(25.80,525.0) scale(0.01046,-0.01006)" d="M763 0H583V1147Q518 1085 412 1023T223 930V1104Q373 1174 485 1275T644 1470H763Z" fill="#111" stroke="#111" stroke-width="79.5" stroke-linejoin="round"/>
<text transform="translate(45.20,525.0) scale(1.04,1)" font-family="Liberation Sans, sans-serif" font-size="20.6" font-weight="normal" fill="#111" stroke="#111" stroke-width="0.8" textLength="12.21" lengthAdjust="spacing">x</text>
<text transform="translate(64.30,525.0) scale(1.04,1)" font-family="Liberation Sans, sans-serif" font-size="20.6" font-weight="normal" fill="#111" stroke="#111" stroke-width="0.8" textLength="45.67" lengthAdjust="spacing">User</text>
<text transform="translate(119.70,525.0) scale(1.04,1)" font-family="Liberation Sans, sans-serif" font-size="20.6" font-weight="normal" fill="#111" stroke="#111" stroke-width="0.8" textLength="72.60" lengthAdjust="spacing">Manual</text>
<text transform="translate(25.80,582.8) scale(1.04,1)" font-family="Liberation Sans, sans-serif" font-size="20.6" font-weight="normal" fill="#111" stroke="#111" stroke-width="0.8" textLength="51.54" lengthAdjust="spacing">Input</text>
<text transform="translate(87.70,582.8) scale(1.04,1)" font-family="Liberation Sans, sans-serif" font-size="20.6" font-weight="normal" fill="#111" stroke="#111" stroke-width="0.8" textLength="83.94" lengthAdjust="spacing">Voltage:</text>
<text transform="translate(181.10,582.8) scale(1.04,1)" font-family="Liberation Sans, sans-serif" font-size="20.6" font-weight="normal" fill="#111" stroke="#111" stroke-width="0.8" textLength="105.19" lengthAdjust="spacing"><tspan visibility="hidden">1</tspan>20V/60Hz</text>
<path transform="translate(181.10,582.8) scale(0.01046,-0.01006)" d="M763 0H583V1147Q518 1085 412 1023T223 930V1104Q373 1174 485 1275T644 1470H763Z" fill="#111" stroke="#111" stroke-width="79.5" stroke-linejoin="round"/>
<text transform="translate(26.70,613.6) scale(1.04,1)" font-family="Liberation Sans, sans-serif" font-size="20.6" font-weight="normal" fill="#111" stroke="#111" stroke-width="0.8" textLength="68.17" lengthAdjust="spacing">Output</text>
<text transform="translate(106.00,613.6) scale(1.04,1)" font-family="Liberation Sans, sans-serif" font-size="20.6" font-weight="normal" fill="#111" stroke="#111" stroke-width="0.8" textLength="84.42" lengthAdjust="spacing">Voltage:</text>
<text transform="translate(199.00,613.6) scale(1.04,1)" font-family="Liberation Sans, sans-serif" font-size="20.6" font-weight="normal" fill="#111" stroke="#111" stroke-width="0.8" textLength="75.29" lengthAdjust="spacing">29V/6W</text>
<text transform="translate(262.00,44.6) scale(1.08,1)" font-family="Liberation Sans, sans-serif" font-size="20.6" font-weight="normal" fill="#111" stroke="#111" stroke-width="0.85" textLength="55.19" lengthAdjust="spacing">9.84ft</text>
<text transform="translate(61.80,76.2) scale(1.12,1)" font-family="Liberation Sans, sans-serif" font-size="19.4" font-weight="normal" fill="#111" stroke="#111" stroke-width="0.8" textLength="20.98" lengthAdjust="spacing">49</text>
<text transform="translate(87.30,76.2) scale(1.12,1)" font-family="Liberation Sans, sans-serif" font-size="19.4" font-weight="normal" fill="#111" stroke="#111" stroke-width="0.8" textLength="4.11" lengthAdjust="spacing">.</text>
<text transform="translate(94.50,76.2) scale(1.12,1)" font-family="Liberation Sans, sans-serif" font-size="19.4" font-weight="normal" fill="#111" stroke="#111" stroke-width="0.8" textLength="33.93" lengthAdjust="spacing">25ft</text>
<text transform="translate(133.40,76.2) scale(1.12,1)" font-family="Liberation Sans, sans-serif" font-size="19.4" font-weight="normal" fill="#111" stroke="#111" stroke-width="0.8" textLength="7.05" lengthAdjust="spacing">(</text>
<text transform="translate(142.10,76.2) scale(1.12,1)" font-family="Liberation Sans, sans-serif" font-size="19.4" font-weight="normal" fill="#111" stroke="#111" stroke-width="0.8" textLength="33.04" lengthAdjust="spacing"><tspan visibility="hidden">1</tspan><tspan visibility="hidden">1</tspan>4</text>
<path transform="translate(142.10,76.2) scale(0.01061,-0.00947)" d="M763 0H583V1147Q518 1085 412 1023T223 930V1104Q373 1174 485 1275T644 1470H763Z" fill="#111" stroke="#111" stroke-width="84.5" stroke-linejoin="round"/><path transform="translate(154.56,76.2) scale(0.01061,-0.00947)" d="M763 0H583V1147Q518 1085 412 1023T223 930V1104Q373 1174 485 1275T644 1470H763Z" fill="#111" stroke="#111" stroke-width="84.5" stroke-linejoin="round"/>
<text transform="translate(180.80,76.2) scale(1.12,1)" font-family="Liberation Sans, sans-serif" font-size="19.4" font-weight="normal" fill="#111" stroke="#111" stroke-width="0.8" textLength="57.23" lengthAdjust="spacing">Drops</text>
<text transform="translate(424.40,76.2) scale(1.12,1)" font-family="Liberation Sans, sans-serif" font-size="19.4" font-weight="normal" fill="#111" stroke="#111" stroke-width="0.8" textLength="20.98" lengthAdjust="spacing">49</text>
<text transform="translate(449.90,76.2) scale(1.12,1)" font-family="Liberation Sans, sans-serif" font-size="19.4" font-weight="normal" fill="#111" stroke="#111" stroke-width="0.8" textLength="4.11" lengthAdjust="spacing">.</text>
<text transform="translate(457.10,76.2) scale(1.12,1)" font-family="Liberation Sans, sans-serif" font-size="19.4" font-weight="normal" fill="#111" stroke="#111" stroke-width="0.8" textLength="33.93" lengthAdjust="spacing">25ft</text>
<text transform="translate(496.00,76.2) scale(1.12,1)" font-family="Liberation Sans, sans-serif" font-size="19.4" font-weight="normal" fill="#111" stroke="#111" stroke-width="0.8" textLength="7.05" lengthAdjust="spacing">(</text>
<text transform="translate(504.70,76.2) scale(1.12,1)" font-family="Liberation Sans, sans-serif" font-size="19.4" font-weight="normal" fill="#111" stroke="#111" stroke-width="0.8" textLength="33.04" lengthAdjust="spacing"><tspan visibility="hidden">1</tspan><tspan visibility="hidden">1</tspan>4</text>
<path transform="translate(504.70,76.2) scale(0.01061,-0.00947)" d="M763 0H583V1147Q518 1085 412 1023T223 930V1104Q373 1174 485 1275T644 1470H763Z" fill="#111" stroke="#111" stroke-width="84.5" stroke-linejoin="round"/><path transform="translate(517.16,76.2) scale(0.01061,-0.00947)" d="M763 0H583V1147Q518 1085 412 1023T223 930V1104Q373 1174 485 1275T644 1470H763Z" fill="#111" stroke="#111" stroke-width="84.5" stroke-linejoin="round"/>
<text transform="translate(543.40,76.2) scale(1.12,1)" font-family="Liberation Sans, sans-serif" font-size="19.4" font-weight="normal" fill="#111" stroke="#111" stroke-width="0.8" textLength="57.23" lengthAdjust="spacing">Drops</text>
<text transform="translate(358.40,37.1) scale(1.0,1)" font-family="Liberation Sans, sans-serif" font-size="33" font-weight="normal" fill="#fff" stroke="#fff" stroke-width="1.6" textLength="21.20" lengthAdjust="spacing">U</text>
<text transform="translate(381.90,37.1) scale(0.87,1)" font-family="Liberation Sans, sans-serif" font-size="33" font-weight="normal" fill="#fff" stroke="#fff" stroke-width="1.6" textLength="18.28" lengthAdjust="spacing">L</text>
<text transform="translate(299.40,150.5) scale(1.0,1)" font-family="Liberation Sans, sans-serif" font-size="21" font-weight="normal" fill="#111" stroke="#111" stroke-width="0.6" textLength="53.50" lengthAdjust="spacing">0.33ft</text>
<text transform="translate(447.10,283.0) scale(1.0,1)" font-family="Liberation Sans, sans-serif" font-size="21" font-weight="normal" fill="#111" stroke="#111" stroke-width="0.6" textLength="53.90" lengthAdjust="spacing">0.47ft</text>
<text transform="translate(111.90,238.5) scale(1.03,1)" font-family="Liberation Sans, sans-serif" font-size="20.2" font-weight="normal" fill="#111" stroke="#111" stroke-width="0.7" textLength="52.04" lengthAdjust="spacing">4LED</text>
<text transform="translate(67.70,271.4) scale(1.03,1)" font-family="Liberation Sans, sans-serif" font-size="20.2" font-weight="normal" fill="#111" stroke="#111" stroke-width="0.7" textLength="51.36" lengthAdjust="spacing">5LED</text>
<text transform="translate(18.90,326.6) scale(1.03,1)" font-family="Liberation Sans, sans-serif" font-size="20.2" font-weight="normal" fill="#111" stroke="#111" stroke-width="0.7" textLength="52.23" lengthAdjust="spacing">7LED</text>
<text transform="translate(79.70,326.6) scale(1.03,1)" font-family="Liberation Sans, sans-serif" font-size="20.2" font-weight="normal" fill="#111" stroke="#111" stroke-width="0.7" textLength="97.48" lengthAdjust="spacing">Repeat(76</text>
<text transform="translate(187.60,326.6) scale(1.03,1)" font-family="Liberation Sans, sans-serif" font-size="20.2" font-weight="normal" fill="#111" stroke="#111" stroke-width="0.7" textLength="76.60" lengthAdjust="spacing">groups)</text>
<text transform="translate(585.00,531.0) scale(1.0,1)" font-family="Liberation Sans, sans-serif" font-size="21" font-weight="normal" fill="#111" stroke="#111" stroke-width="0.6" textLength="58.60" lengthAdjust="spacing"><tspan visibility="hidden">1</tspan>.37ft</text>
<path transform="translate(585.00,531.0) scale(0.01025,-0.01025)" d="M763 0H583V1147Q518 1085 412 1023T223 930V1104Q373 1174 485 1275T644 1470H763Z" fill="#111" stroke="#111" stroke-width="58.5" stroke-linejoin="round"/>
<text transform="translate(501.70,577.8) scale(1.0,1)" font-family="Liberation Sans, sans-serif" font-size="21" font-weight="normal" fill="#111" stroke="#111" stroke-width="0.6" textLength="58.40" lengthAdjust="spacing"><tspan visibility="hidden">1</tspan>.68ft</text>
<path transform="translate(501.70,577.8) scale(0.01025,-0.01025)" d="M763 0H583V1147Q518 1085 412 1023T223 930V1104Q373 1174 485 1275T644 1470H763Z" fill="#111" stroke="#111" stroke-width="58.5" stroke-linejoin="round"/>
<text transform="translate(420.40,661.5) scale(1.0,1)" font-family="Liberation Sans, sans-serif" font-size="21" font-weight="normal" fill="#111" stroke="#111" stroke-width="0.6" textLength="58.70" lengthAdjust="spacing">2.36ft</text>
</svg></body></html>
